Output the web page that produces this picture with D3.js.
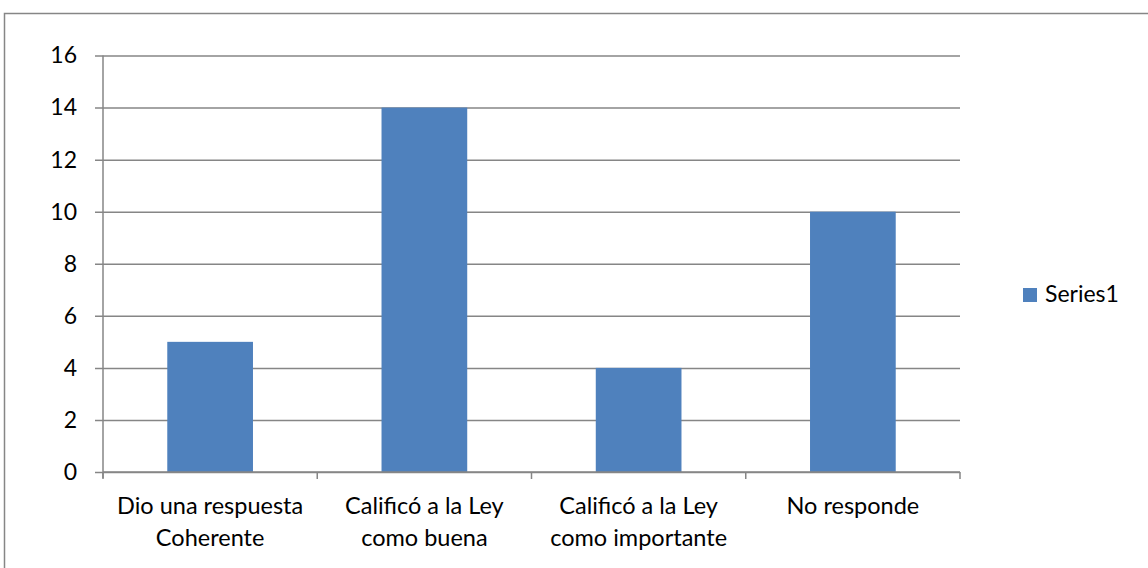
<!DOCTYPE html>
<html>
<head>
<meta charset="utf-8">
<script src="https://cdn.jsdelivr.net/npm/d3@7"></script>
<style>
  body { margin: 0; background: #fff; }
  text { font-family: Lato, "Open Sans", sans-serif; fill: #000; }
</style>
</head>
<body>
<svg id="chart"></svg>
<script>
var width = 1148;
var height = 568;

var categories = [
  ["Dio una respuesta", "Coherente"],
  ["Calificó a la Ley", "como buena"],
  ["Calificó a la Ley", "como importante"],
  ["No responde"]
];
var values = [5, 14, 4, 10];
var yTicks = [0, 2, 4, 6, 8, 10, 12, 14, 16];
var seriesName = "Series1";

var plotLeft = 103, plotRight = 960, plotTop = 55.5, plotBottom = 472;
var gridColor = "#868686";
var barColor = "#4F81BD";

var svg = d3.select("#chart")
            .attr("width", width)
            .attr("height", height);

// outer chart border (cropped by the viewport)
svg.append("rect")
    .attr("x", 4.5)
    .attr("y", 13.5)
    .attr("width", 1200)
    .attr("height", 700)
    .attr("fill", "none")
    .attr("stroke", gridColor)
    .attr("stroke-width", 1.5);

var xScale = d3.scaleBand()
               .domain(d3.range(categories.length))
               .range([plotLeft, plotRight])
               .padding(0);

var yScale = d3.scaleLinear()
               .domain([0, 16])
               .range([plotBottom, plotTop]);

// gridlines + y ticks
var yAxis = d3.axisLeft(yScale)
              .tickValues(yTicks)
              .tickSize(-(plotRight - plotLeft))
              .tickSizeOuter(0)
              .tickPadding(26);

var gy = svg.append("g")
    .attr("transform", "translate(" + plotLeft + ",0)")
    .call(yAxis);
gy.select(".domain").remove();
gy.selectAll(".tick line")
    .attr("x1", -8)
    .attr("stroke", gridColor)
    .attr("stroke-width", 1.5);
gy.selectAll(".tick text")
    .attr("font-size", 23)
    .attr("font-family", "Lato, 'Open Sans', sans-serif")
    .attr("fill", "#000");

// bars
svg.selectAll(".bar")
  .data(values)
  .enter()
  .append("rect")
    .classed("bar", true)
    .attr("x", (d, i) => xScale(i) + xScale.bandwidth() * 0.3)
    .attr("width", xScale.bandwidth() * 0.4)
    .attr("y", d => yScale(d))
    .attr("height", d => plotBottom - yScale(d))
    .attr("fill", barColor);

// y axis line
svg.append("line")
    .attr("x1", plotLeft).attr("x2", plotLeft)
    .attr("y1", plotTop).attr("y2", plotBottom + 6)
    .attr("stroke", gridColor)
    .attr("stroke-width", 1.5);

// x axis line
svg.append("line")
    .attr("x1", plotLeft).attr("x2", plotRight)
    .attr("y1", plotBottom).attr("y2", plotBottom)
    .attr("stroke", gridColor)
    .attr("stroke-width", 1.5);

// x ticks at category boundaries
svg.selectAll(".xtick")
  .data(d3.range(categories.length + 1))
  .enter()
  .append("line")
    .classed("xtick", true)
    .attr("x1", i => i < categories.length ? xScale(i) : plotRight)
    .attr("x2", i => i < categories.length ? xScale(i) : plotRight)
    .attr("y1", plotBottom)
    .attr("y2", plotBottom + 7)
    .attr("stroke", gridColor)
    .attr("stroke-width", 1.5);

// category labels
var labels = svg.selectAll(".xlabel")
  .data(categories)
  .enter()
  .append("text")
    .classed("xlabel", true)
    .attr("text-anchor", "middle")
    .attr("font-size", 23.5)
    .attr("x", (d, i) => xScale(i) + xScale.bandwidth() / 2)
    .attr("y", 514);

labels.selectAll("tspan")
  .data(d => d)
  .enter()
  .append("tspan")
    .attr("x", function () { return d3.select(this.parentNode).attr("x"); })
    .attr("dy", (d, i) => i === 0 ? 0 : 32)
    .text(d => d);

// legend
svg.append("rect")
    .attr("x", 1023)
    .attr("y", 288)
    .attr("width", 14)
    .attr("height", 14)
    .attr("fill", barColor);

svg.append("text")
    .attr("x", 1045)
    .attr("y", 302)
    .attr("font-size", 23)
    .text(seriesName);
</script>
</body>
</html>
